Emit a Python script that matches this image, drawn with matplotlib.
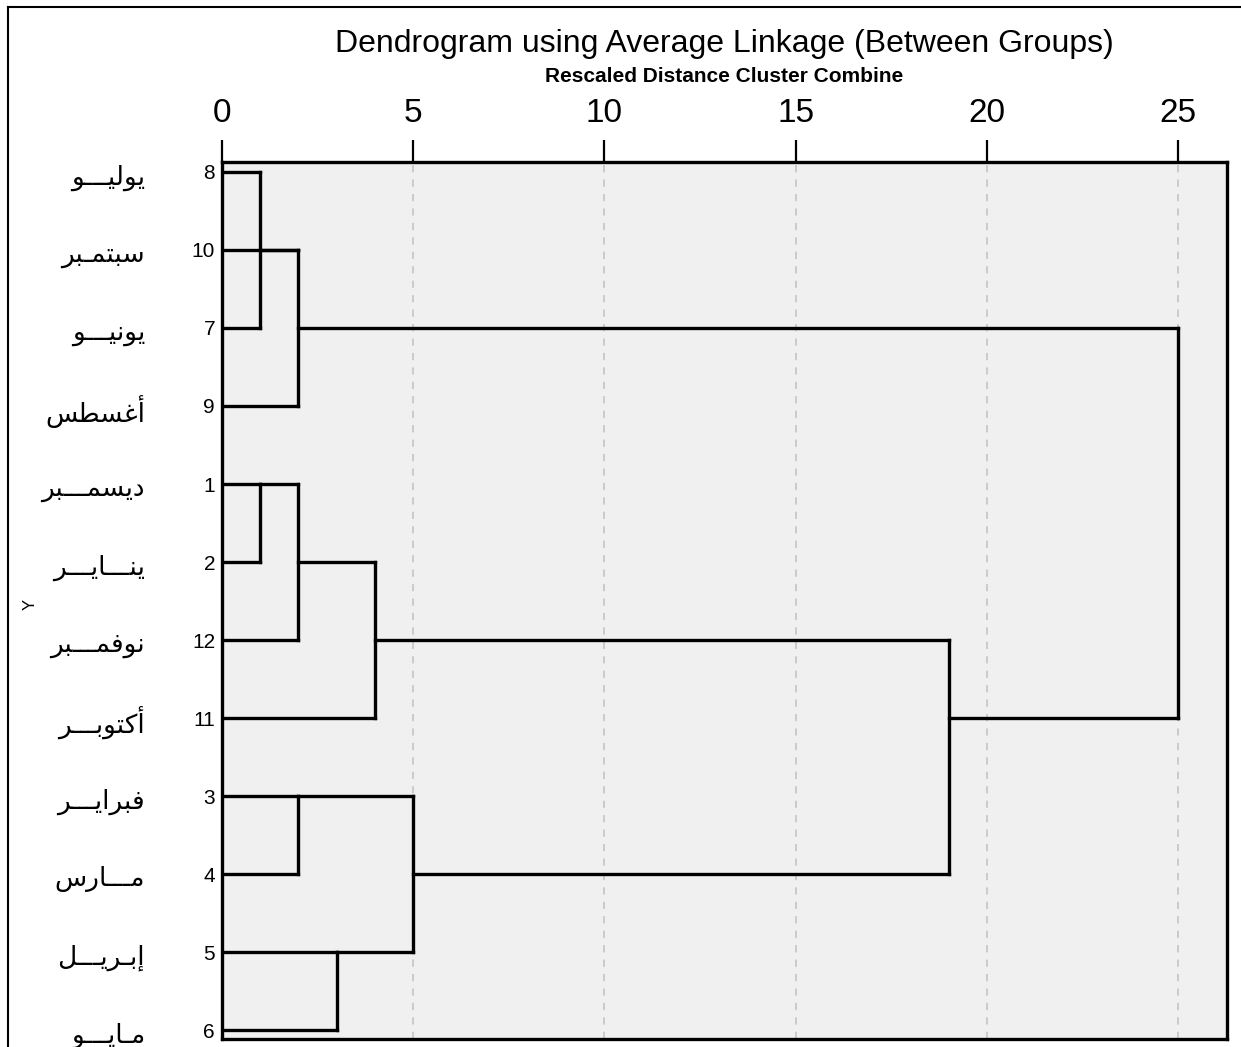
import matplotlib
matplotlib.use('Agg')
import matplotlib.pyplot as plt
from matplotlib.lines import Line2D

plt.rcParams['font.family'] = ['Liberation Sans', 'DejaVu Sans']

# cases in the order they appear on the dendrogram (top to bottom)
case_order = [8, 10, 7, 9, 1, 2, 12, 11, 3, 4, 5, 6]
month_labels = ['يوليـــو', 'سبتمـبر', 'يونيـــو', 'أغسطس', 'ديسمـــبر', 'ينـــايـــر',
                'نوفمـــبر', 'أكتوبـــر', 'فبرايـــر', 'مـــارس', 'إبـريـــل', 'مـايـــو']

# merges: new cluster ids start at 13
merge_a = [8, 13, 14, 1, 16, 17, 3, 5, 19, 18, 15]
merge_b = [7, 10, 9, 2, 12, 11, 4, 6, 20, 21, 22]
merge_dist = [1, 2, 2, 1, 2, 4, 2, 3, 5, 19, 25]

x_ticks = [0, 5, 10, 15, 20, 25]

# arabic shaping (matplotlib has no bidi / joining support)
DUAL = {'ب': 0xFE8F, 'ت': 0xFE95, 'س': 0xFEB1, 'ط': 0xFEC1, 'غ': 0xFECD, 'ف': 0xFED1,
        'ك': 0xFED9, 'ل': 0xFEDD, 'م': 0xFEE1, 'ن': 0xFEE5, 'ي': 0xFEF1}
RIGHT = {'ا': 0xFE8D, 'أ': 0xFE83, 'إ': 0xFE87, 'د': 0xFEA9, 'ر': 0xFEAD, 'و': 0xFEED}
TATWEEL = 'ـ'


def shape_arabic(word):
    out = []
    for i, ch in enumerate(word):
        if ch == TATWEEL:
            out.append(ch)
            continue
        prev = word[i - 1] if i > 0 else None
        nxt = word[i + 1] if i + 1 < len(word) else None
        joins_prev = prev is not None and (prev in DUAL or prev == TATWEEL)
        joins_next = ch in DUAL and nxt is not None and (nxt in DUAL or nxt in RIGHT or nxt == TATWEEL)
        base = DUAL.get(ch, RIGHT.get(ch))
        if joins_prev and joins_next:
            form = 3
        elif joins_prev:
            form = 1
        elif joins_next:
            form = 2
        else:
            form = 0
        out.append(chr(base + form))
    return ''.join(reversed(out))


fig = plt.figure(figsize=(12.41, 10.47), dpi=100)
ax = fig.add_axes([222 / 1241, 8 / 1047, 1005 / 1241, 877 / 1047])
ax.set_facecolor('#f0f0f0')

# node positions: leaves by row, clusters at floor of the mid row
pos = {c: i for i, c in enumerate(case_order)}
height = {c: 0 for c in case_order}
lw = 2.4
for k, (a, b, d) in enumerate(zip(merge_a, merge_b, merge_dist)):
    node = 13 + k
    for c in (a, b):
        ax.plot([height[c], d], [pos[c], pos[c]], color='black', lw=lw,
                solid_capstyle='projecting', zorder=3)
    ax.plot([d, d], [pos[a], pos[b]], color='black', lw=lw,
            solid_capstyle='projecting', zorder=3)
    pos[node] = (pos[a] + pos[b]) // 2
    height[node] = d

ax.set_xlim(0, 26.28)
ax.set_ylim(11.115, -0.128)

ax.xaxis.tick_top()
ax.set_xticks(x_ticks)
ax.set_xticklabels([str(t) for t in x_ticks])
ax.tick_params(axis='x', length=16, width=1.6, pad=8, labelsize=24)
ax.grid(axis='x', linestyle=(0, (4, 4)), color='#c8c8c8', lw=1.3)
ax.set_axisbelow(True)

ax.set_yticks(range(len(case_order)))
ax.set_yticklabels([str(c) for c in case_order])
ax.tick_params(axis='y', length=0, pad=5, labelsize=15)

for sp in ax.spines.values():
    sp.set_linewidth(2.4)
    sp.set_color('black')

for i, lab in enumerate(month_labels):
    ax.text(-0.0766, i + 0.07, shape_arabic(lab), transform=ax.get_yaxis_transform(),
            ha='right', va='center', fontsize=19, family='DejaVu Sans')

fig.text(724 / 1241, 1 - 44 / 1047, 'Dendrogram using Average Linkage (Between Groups)',
         ha='center', va='center', fontsize=23)
fig.text(724 / 1241, 1 - 77 / 1047, 'Rescaled Distance Cluster Combine',
         ha='center', va='center', fontsize=15, fontweight='bold')
fig.text(30 / 1241, 1 - 604 / 1047, 'Y', rotation=90, ha='center', va='center', fontsize=12)

# outer frame (left and top edges visible)
fig.add_artist(Line2D([8 / 1241, 8 / 1241], [0, 1 - 7 / 1047], transform=fig.transFigure,
                      color='black', lw=1.5))
fig.add_artist(Line2D([8 / 1241, 1], [1 - 7 / 1047, 1 - 7 / 1047], transform=fig.transFigure,
                      color='black', lw=1.5))

fig.savefig('out.png', dpi=100)
